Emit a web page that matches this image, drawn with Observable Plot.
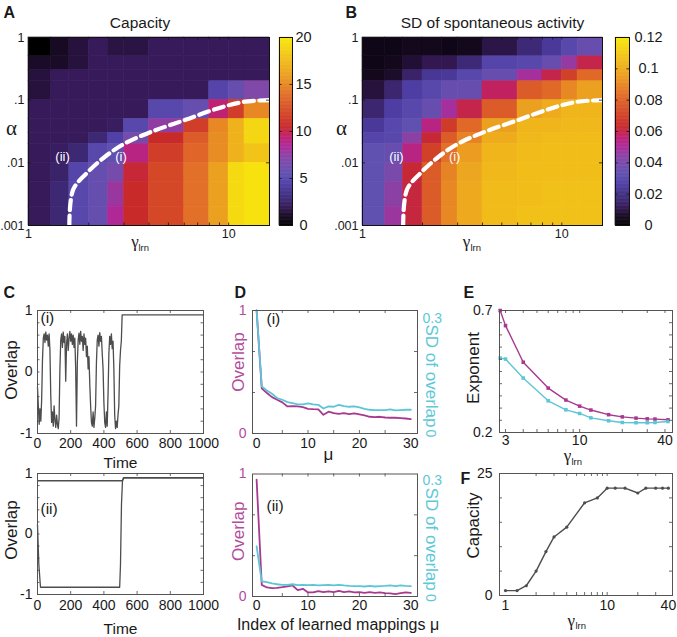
<!DOCTYPE html>
<html><head><meta charset="utf-8">
<script src="https://cdn.jsdelivr.net/npm/d3@7"></script>
<script src="https://cdn.jsdelivr.net/npm/@observablehq/plot@0.6"></script>
<style>
html,body{margin:0;padding:0;background:#fff;}
#fig{position:relative;width:677px;height:637px;overflow:hidden;background:#fff;}
</style></head><body><div id="fig"></div>
<script>
// ---------- Heatmaps (A, B) ----------
const gammaEdges = [1, 1.3, 1.6, 2, 2.5, 3, 4, 6, 8, 10, 12, 16];
const alphaEdges = [1, 0.5, 0.3, 0.2, 0.1, 0.05, 0.03, 0.02, 0.01, 0.005, 0.002, 0.001];
const capacityGrid = [
  [0, 1, 1.5, 2, 1.6, 1.6, 2, 2, 2, 2, 2],
  [1.1, 1.1, 1.5, 2, 2, 2, 2, 2, 2, 2, 2],
  [1.5, 2, 2, 2, 2, 2, 2, 2, 2, 2, 2],
  [1.5, 2, 2, 2, 2, 2, 2, 2, 4.8, 5.8, 7],
  [2, 2, 2, 2, 2, 2, 5, 5.8, 9.3, 11.5, 15],
  [2, 2, 2, 2, 2.2, 5, 7.5, 11.5, 15, 17, 19],
  [2, 2, 2, 2.8, 4.5, 6.5, 10.5, 13, 15.2, 17, 19],
  [2, 2.2, 2.8, 5, 5.5, 9, 11.5, 13.5, 15.2, 17, 18],
  [2, 2.5, 4.8, 5.8, 6.5, 10.3, 12, 14, 16, 19.2, 19.6],
  [2, 2.8, 5, 5.8, 7.8, 10.5, 12, 14, 16, 19.2, 19.6],
  [2, 2.8, 5, 5.8, 8.5, 10.5, 12, 14, 16, 19.2, 19.6]
];
const sdGrid = [
  [0.004, 0.004, 0.005, 0.005, 0.004, 0.005, 0.010, 0.017, 0.024, 0.030, 0.035],
  [0.004, 0.005, 0.008, 0.011, 0.011, 0.017, 0.029, 0.030, 0.035, 0.046, 0.060],
  [0.005, 0.007, 0.015, 0.023, 0.024, 0.030, 0.035, 0.049, 0.060, 0.070, 0.082],
  [0.009, 0.016, 0.026, 0.030, 0.035, 0.035, 0.058, 0.078, 0.082, 0.090, 0.096],
  [0.016, 0.026, 0.030, 0.035, 0.049, 0.060, 0.078, 0.096, 0.100, 0.103, 0.103],
  [0.024, 0.030, 0.033, 0.054, 0.068, 0.082, 0.096, 0.103, 0.103, 0.104, 0.104],
  [0.029, 0.030, 0.044, 0.062, 0.078, 0.089, 0.100, 0.104, 0.105, 0.105, 0.105],
  [0.033, 0.035, 0.054, 0.070, 0.084, 0.095, 0.103, 0.105, 0.106, 0.106, 0.106],
  [0.033, 0.040, 0.062, 0.078, 0.089, 0.098, 0.104, 0.106, 0.106, 0.106, 0.106],
  [0.033, 0.044, 0.061, 0.078, 0.090, 0.099, 0.105, 0.106, 0.107, 0.107, 0.107],
  [0.033, 0.047, 0.061, 0.078, 0.090, 0.099, 0.105, 0.107, 0.107, 0.107, 0.107]
];
const boundaryGamma = [1.6, 1.67, 1.95, 2.41, 3.03, 4.11, 6.02, 8.81, 11.97, 16];
const boundaryAlpha = [0.001, 0.0037, 0.0068, 0.0125, 0.0204, 0.0313, 0.048, 0.0738, 0.0943, 0.1];
const regimeLabels = ["(ii)", "(i)"];
const regimeGamma = [1.48, 2.9];
const regimeAlpha = [0.0125, 0.0125];
const gammaTickValues = [1, 10];
const alphaTickValues = [1, 0.1, 0.01, 0.001];
const alphaTickLabels = ["1", ".1", ".01", ".001"];
const heatMinorTicks = [2, 3, 4, 5, 6, 7, 8, 9, 10];
const capacityBarTicks = [0, 5, 10, 15, 20];
const capacityBarLabels = ["0", "5", "10", "15", "20"];
const sdBarTicks = [0, 0.02, 0.04, 0.06, 0.08, 0.1, 0.12];
const sdBarLabels = ["0", "0.02", "0.04", "0.06", "0.08", "0.1", "0.12"];

// ---------- C: overlap time courses ----------
const stepCi = 5;
const overlapCi = [-0.25,-0.55,-0.85,-0.6,-0.8,-0.45,
  0.2,0.55,0.62,0.48,0.65,0.52,0.6,0.42,0.62,0.35,
  -0.4,-0.82,-0.65,-0.88,-0.55,-0.78,-0.9,-0.7,-0.85,-0.92,-0.75,
  0.05,0.52,0.62,0.4,0.65,0.48,0.58,-0.15,0.45,0.62,0.35,0.55,0.66,0.5,0.62,0.45,0.6,0.4,0.55,0.05,
  -0.88,0.15,
  0.52,0.63,0.45,0.66,0.5,0.58,0.35,0.62,0.45,0.55,
  0.25,0.42,0.05,0.25,-0.2,-0.55,-0.82,
  -0.88,-0.65,-0.9,-0.75,-0.55,
  0.15,0.52,0.6,0.42,0.64,0.5,0.58,0.3,0.05,
  -0.5,-0.82,-0.9,-0.65,-0.88,-0.35,
  0.3,0.58,0.45,0.62,0.38,0.5,0.05,
  -0.7,-0.92,-0.8,-0.9,-0.7,-0.55,
  0.1,0.35,0.5];
const tailTimeCi = [510, 1000];
const tailOverlapCi = [0.93, 0.93];
const timeCiiTop = [0, 512, 518, 1000];
const overlapCiiTop = [0.88, 0.88, 0.93, 0.93];
const timeCiiBottom = [0, 8, 18, 495, 500, 506, 512, 520, 1000];
const overlapCiiBottom = [0.15, -0.5, -0.88, -0.88, -0.5, 0.5, 0.88, 0.93, 0.93];
const timeTicks = [0, 200, 400, 600, 800, 1000];
const overlapTicks = [-1, 0, 1];
const overlapMinorTicks = [-0.8, -0.6, -0.4, -0.2, 0, 0.2, 0.4, 0.6, 0.8];

// ---------- D: overlap / SD vs index mu ----------
const muIndex = [0,1,2,3,4,5,6,7,8,9,10,11,12,13,14,15,16,17,18,19,20,21,22,23,24,25,26,27,28,29,30];
const overlapDi = [1.0,0.367,0.329,0.296,0.274,0.253,0.22,0.223,0.22,0.215,0.201,0.198,0.196,0.152,0.177,0.166,0.16,0.166,0.158,0.163,0.155,0.147,0.136,0.133,0.136,0.13,0.128,0.128,0.125,0.122,0.117];
const sdDi = [0.3,0.115,0.105,0.097,0.0864,0.0823,0.0766,0.0742,0.0709,0.0709,0.0734,0.0709,0.07,0.061,0.066,0.0652,0.07,0.0668,0.0652,0.066,0.0636,0.0603,0.0579,0.057,0.057,0.057,0.0587,0.0562,0.057,0.0579,0.0579];
const overlapDii = [0.954,0.095,0.074,0.068,0.071,0.076,0.082,0.09,0.052,0.063,0.033,0.033,0.044,0.035,0.041,0.035,0.046,0.035,0.041,0.033,0.035,0.03,0.035,0.03,0.033,0.027,0.025,0.019,0.027,0.033,0.03];
const sdDii = [0.123,0.037,0.035,0.032,0.030,0.0286,0.0286,0.030,0.0278,0.0286,0.0278,0.0286,0.027,0.0278,0.0286,0.027,0.0286,0.027,0.026,0.0253,0.0253,0.0245,0.026,0.0245,0.0253,0.026,0.027,0.0253,0.027,0.026,0.0253];
const sdAxisMax = 0.3;
const muTicks = [0, 10, 20, 30];
const muMinorTicks = [5, 10, 15, 20, 25];
const sdMinorTicks = [0.1, 0.2];

// ---------- E: exponent vs gamma ----------
const gammaE = [2.75, 3, 4, 6, 8, 10, 12, 16, 20, 25, 30, 34, 42];
const exponentOverlap = [0.70, 0.638, 0.488, 0.382, 0.333, 0.308, 0.292, 0.273, 0.264, 0.259, 0.256, 0.255, 0.252];
const exponentSD = [0.505, 0.501, 0.423, 0.330, 0.293, 0.278, 0.260, 0.248, 0.241, 0.240, 0.240, 0.241, 0.245];
const gammaETicks = [3, 10, 40];
const gammaEMinor = [3, 4, 5, 6, 7, 8, 9, 10, 20, 30, 40];
const exponentTicks = [0.2, 0.7];
const exponentMinor = [0.25, 0.3, 0.35, 0.4, 0.45, 0.5, 0.55, 0.6, 0.65];

// ---------- F: capacity vs gamma ----------
const gammaF = [1, 1.3, 1.6, 2, 2.5, 3, 4, 6, 8, 10, 12, 15, 20, 24, 30, 35, 40];
const capacityF = [1, 1, 2, 5, 9, 12, 14, 19, 20, 22, 22, 22, 21, 22, 22, 22, 22];
const gammaFTicks = [1, 10, 40];
const gammaFMinor = [2, 3, 4, 5, 6, 7, 8, 9, 10, 20, 30];
const capacityTicks = [0, 25];
const capacityMinor = [5, 10, 15, 20];

// ---------- styling (not data) ----------
const cmapStops = [0, 0.05, 0.1, 0.15, 0.225, 0.275, 0.35, 0.425, 0.475, 0.525, 0.6, 0.7, 0.8, 0.9, 1];
const cmapColors = ["#000000","#170a22","#371a5a","#3e2c7a","#5040a8","#6050b0","#8048a8","#b02898","#c0206a","#c82a2a","#d44828","#e27028","#eca020","#f2c418","#f8e80c"];
const MAGENTA = "#a8398f", CYAN = "#5cc6d6", MAG_TXT = "#b24c9c", CYAN_TXT = "#5ec8d8", GRAY = "#4d4d4d";
const FONT = "Liberation Sans, Arial, Helvetica, sans-serif";
const SERIF = "Liberation Serif, DejaVu Serif, serif";
const baseStyle = {background: "transparent", overflow: "visible", fontFamily: FONT, fontSize: "14px", color: "#1a1a1a"};

const fig = document.getElementById("fig");
function place(node, left, top) {
  node.style.position = "absolute";
  node.style.left = left + "px";
  node.style.top = top + "px";
  fig.appendChild(node);
}
function colorScale(max) {
  return {type: "linear", domain: cmapStops.map(s => s * max), range: cmapColors, clamp: true};
}
function ticksX(values, innerH, len = 3, stroke = "#444") {
  return [
    Plot.tickX(values, {x: d => d, insetTop: innerH - len, stroke, strokeWidth: 0.8}),
    Plot.tickX(values, {x: d => d, insetBottom: innerH - len, stroke, strokeWidth: 0.8})
  ];
}
function ticksY(values, innerW, len = 3, stroke = "#444", yf = d => d) {
  return [
    Plot.tickY(values, {y: yf, insetRight: innerW - len, stroke, strokeWidth: 0.8}),
    Plot.tickY(values, {y: yf, insetLeft: innerW - len, stroke, strokeWidth: 0.8})
  ];
}
function label(txt, opts) { return Plot.text([txt], {text: d => d, fontFamily: FONT, ...opts}); }
function vlabel(txt, opts) { return label(txt, {textAnchor: "middle", lineAnchor: "middle", ...opts}); }
function gammaLabel(gDx, gDy, lDx, lDy) {
  return [
    label("γ", {frameAnchor: "bottom", lineAnchor: "bottom", textAnchor: "middle", dx: gDx, dy: gDy, fontSize: 17, fontFamily: SERIF}),
    label("lrn", {frameAnchor: "bottom", lineAnchor: "bottom", textAnchor: "start", dx: lDx, dy: lDy, fontSize: 9.5})
  ];
}
function letter(txt, dx, dy) {
  return label(txt, {frameAnchor: "top-left", textAnchor: "start", lineAnchor: "bottom", dx, dy, fontSize: 16, fontWeight: "bold"});
}

// ---------- heatmap panels ----------
function heatPanel({grid, max, svgLeft, W, mR, title, titleDx, letterTxt, letterDx, alphaDx, gDx, lDx}) {
  const H = 260, mL = 28, mT = 37, mB = 35;
  const innerW = W - mL - mR, innerH = H - mT - mB;
  const cells = grid.flatMap((row, i) => row.map((v, j) => ({x1: gammaEdges[j], x2: gammaEdges[j + 1], y1: alphaEdges[i + 1], y2: alphaEdges[i], v})));
  const boundary = boundaryGamma.map((g, i) => ({g, a: boundaryAlpha[i]}));
  const regimes = regimeLabels.map((t, i) => ({t, g: regimeGamma[i], a: regimeAlpha[i]}));
  const plot = Plot.plot({
    width: W, height: H, marginLeft: mL, marginRight: mR, marginTop: mT, marginBottom: mB,
    x: {type: "log", domain: [1, 16]},
    y: {type: "log", domain: [0.001, 1]},
    color: colorScale(max),
    style: baseStyle,
    marks: [
      Plot.rect(cells, {x1: "x1", x2: "x2", y1: "y1", y2: "y2", fill: "v", stroke: "v", strokeWidth: 0.6}),
      Plot.line(boundary, {x: "g", y: "a", stroke: "white", strokeWidth: 4.2, strokeDasharray: "10,5.5", curve: "catmull-rom"}),
      Plot.text(regimes, {x: "g", y: "a", text: "t", fill: "white", fontSize: 13, fontFamily: FONT}),
      Plot.frame({stroke: "#111"}),
      ...ticksX(heatMinorTicks, innerH, 2.5, "#111"),
      ...ticksY(alphaTickValues, innerW, 3, "#111"),
      Plot.axisX({ticks: gammaTickValues, tickFormat: d => String(d), tickSize: 0, tickPadding: 4, label: null, fontSize: 12.5}),
      Plot.axisY({ticks: alphaTickValues, tickFormat: d => alphaTickLabels[alphaTickValues.indexOf(d)], tickSize: 0, tickPadding: 4, label: null, fontSize: 12.5}),
      label(title, {frameAnchor: "top", lineAnchor: "bottom", textAnchor: "middle", dx: titleDx, dy: -10, fontSize: 15.5}),
      vlabel("α", {frameAnchor: "left", dx: alphaDx, dy: -3, fontSize: 21, fontFamily: SERIF}),
      ...gammaLabel(gDx, 21, lDx, 25),
      letter(letterTxt, letterDx, -20)
    ]
  });
  place(plot, svgLeft, 0);
}
function colorbarPanel({max, ticks, labels, svgLeft, W, mL, mR, labelDx}) {
  const H = 260, mT = 37, mB = 35;
  const innerW = W - mL - mR;
  const n = 240;
  const bands = d3.range(n).map(i => ({y1: max * i / n, y2: max * (i + 1) / n}));
  const plot = Plot.plot({
    width: W, height: H, marginLeft: mL, marginRight: mR, marginTop: mT, marginBottom: mB,
    x: {domain: [0, 1], axis: null},
    y: {domain: [0, max], axis: null},
    color: colorScale(max),
    style: baseStyle,
    marks: [
      Plot.rect(bands, {x1: d => 0, x2: d => 1, y1: "y1", y2: "y2", fill: d => (d.y1 + d.y2) / 2, stroke: d => (d.y1 + d.y2) / 2, strokeWidth: 0.5}),
      Plot.frame({stroke: "#111"}),
      ...ticksY(ticks.slice(1, -1), innerW, 2.5, "#111"),
      Plot.text(ticks, {y: d => d, text: d => labels[ticks.indexOf(d)], frameAnchor: "right", dx: labelDx, textAnchor: "middle", lineAnchor: "middle", fontSize: 14.5, fontFamily: FONT})
    ]
  });
  place(plot, svgLeft, 0);
}
heatPanel({grid: capacityGrid, max: 20, svgLeft: 0, W: 275, mR: 6, title: "Capacity", titleDx: -9, letterTxt: "A", letterDx: -25, alphaDx: -17, gDx: -14, lDx: -10.5});
colorbarPanel({max: 20, ticks: capacityBarTicks, labels: capacityBarLabels, svgLeft: 270, W: 45, mL: 9, mR: 23, labelDx: 11});
heatPanel({grid: sdGrid, max: 0.12, svgLeft: 334, W: 275, mR: 7, title: "SD of spontaneous activity", titleDx: 10, letterTxt: "B", letterDx: -17, alphaDx: -21, gDx: -16, lDx: -12});
colorbarPanel({max: 0.12, ticks: sdBarTicks, labels: sdBarLabels, svgLeft: 606, W: 71, mL: 9, mR: 48, labelDx: 19});

// ---------- C panels ----------
function cPanel({top, H, mT, mB, lines, tag, tagDy, tickPad, timeDy, overlapDy, letterTxt}) {
  const W = 215, mL = 37, mR = 12;
  const innerW = W - mL - mR, innerH = H - mT - mB;
  const marks = [];
  for (const s of lines) marks.push(Plot.line(s, {x: "t", y: "v", stroke: GRAY, strokeWidth: 1.3}));
  marks.push(
    Plot.frame({stroke: "#555"}),
    ...ticksX(timeTicks.slice(1, -1), innerH, 3),
    ...ticksY(overlapMinorTicks, innerW, 2.5),
    Plot.axisX({ticks: timeTicks, tickFormat: d => String(d), tickSize: 0, tickPadding: tickPad, label: null, fontSize: 14}),
    Plot.axisY({ticks: overlapTicks, tickFormat: d => String(d), tickSize: 0, tickPadding: 5, label: null, fontSize: 14}),
    label("Time", {frameAnchor: "bottom", lineAnchor: "bottom", textAnchor: "middle", dy: timeDy, fontSize: 15.5}),
    vlabel("Overlap", {frameAnchor: "left", rotate: -90, dx: -25.5, dy: overlapDy, fontSize: 17}),
    label(tag, {frameAnchor: "top-left", textAnchor: "start", lineAnchor: "bottom", dx: 3, dy: tagDy, fontSize: 15.5})
  );
  if (letterTxt) marks.push(letter(letterTxt, -34, -13));
  const plot = Plot.plot({
    width: W, height: H, marginLeft: mL, marginRight: mR, marginTop: mT, marginBottom: mB,
    x: {domain: [0, 1000]}, y: {domain: [-1, 1]},
    style: baseStyle, marks
  });
  place(plot, 0, top);
}
const seriesCi = [
  ...overlapCi.map((v, i) => ({t: i * stepCi, v})),
  ...tailTimeCi.map((t, i) => ({t, v: tailOverlapCi[i]}))
];
const seriesCiiTop = timeCiiTop.map((t, i) => ({t, v: overlapCiiTop[i]}));
const seriesCiiBottom = timeCiiBottom.map((t, i) => ({t, v: overlapCiiBottom[i]}));
cPanel({top: 290, H: 175, mT: 20, mB: 32, lines: [seriesCi], tag: "(i)", tagDy: 12, tickPad: 5, timeDy: 34, overlapDy: -2, letterTxt: "C"});
cPanel({top: 455, H: 182, mT: 18, mB: 43, lines: [seriesCiiTop, seriesCiiBottom], tag: "(ii)", tagDy: 40, tickPad: 6, timeDy: 39, overlapDy: -4});

// ---------- D panels ----------
function dPanel({top, H, mT, mB, overlap, sd, tag, tagDy, tickPad, overlapDy, sdDy, zeroDy, topDy, letterTxt, xLabel, xLabelDx, xLabelDy, xLabelSize}) {
  const W = 235, mL = 37, mR = 33;
  const innerW = W - mL - mR, innerH = H - mT - mB;
  const rows = muIndex.map((mu, i) => ({mu, overlap: overlap[i], sd: sd[i]}));
  const marks = [
    Plot.line(rows, {x: "mu", y: "overlap", stroke: MAGENTA, strokeWidth: 1.8}),
    Plot.line(rows, {x: "mu", y: d => d.sd / sdAxisMax, stroke: CYAN, strokeWidth: 1.8}),
    Plot.frame({stroke: "#555"}),
    ...ticksX(muMinorTicks, innerH, 3),
    ...ticksY(sdMinorTicks, innerW, 3, "#444", d => d / sdAxisMax),
    Plot.axisX({ticks: muTicks, tickFormat: d => String(d), tickSize: 0, tickPadding: tickPad, label: null, fontSize: 14}),
    Plot.axisY({ticks: [0, 1], tickFormat: d => String(d), tickSize: 0, tickPadding: 6, label: null, fontSize: 14, color: MAG_TXT, fill: MAG_TXT}),
    label("0.3", {frameAnchor: "top-right", textAnchor: "start", lineAnchor: "top", dx: 5, dy: topDy, fontSize: 14, fill: CYAN_TXT}),
    vlabel("SD of overlap", {frameAnchor: "right", rotate: 90, dx: 14, dy: sdDy, fontSize: 17, fill: CYAN_TXT}),
    vlabel("0", {frameAnchor: "bottom-right", rotate: 90, dx: 13, dy: zeroDy, fontSize: 14, fill: CYAN_TXT}),
    vlabel("Overlap", {frameAnchor: "left", rotate: -90, dx: -14, dy: overlapDy, fontSize: 17, fill: MAG_TXT}),
    label(tag, {frameAnchor: "top-left", textAnchor: "start", lineAnchor: "bottom", dx: 14, dy: tagDy, fontSize: 15.5}),
    label(xLabel, {frameAnchor: "bottom", lineAnchor: "bottom", textAnchor: "middle", dx: xLabelDx, dy: xLabelDy, fontSize: xLabelSize})
  ];
  if (letterTxt) marks.push(letter(letterTxt, -18, -13));
  const plot = Plot.plot({
    width: W, height: H, marginLeft: mL, marginRight: mR, marginTop: mT, marginBottom: mB,
    x: {domain: [-0.8, 31.3]}, y: {domain: [0, 1]},
    style: baseStyle, marks
  });
  place(plot, 215, top);
}
dPanel({top: 290, H: 175, mT: 20, mB: 32, overlap: overlapDi, sd: sdDi, tag: "(i)", tagDy: 13, tickPad: 5, overlapDy: -10, sdDy: 4, zeroDy: 0, topDy: 3, letterTxt: "D", xLabel: "μ", xLabelDx: -6.5, xLabelDy: 26, xLabelSize: 17});
dPanel({top: 455, H: 182, mT: 18.5, mB: 41, overlap: overlapDii, sd: sdDii, tag: "(ii)", tagDy: 37, tickPad: 4, overlapDy: -4, sdDy: 4, zeroDy: 1.5, topDy: 1.5, xLabel: "Index of learned mappings μ", xLabelDx: 3, xLabelDy: 33, xLabelSize: 16});

// ---------- E panel ----------
{
  const W = 222, H = 175, mL = 44, mR = 5, mT = 20, mB = 33;
  const innerW = W - mL - mR, innerH = H - mT - mB;
  const rows = gammaE.map((g, i) => ({g, a: exponentOverlap[i], b: exponentSD[i]}));
  const plot = Plot.plot({
    width: W, height: H, marginLeft: mL, marginRight: mR, marginTop: mT, marginBottom: mB,
    x: {type: "log", domain: [2.72, 45.2]}, y: {domain: [0.2, 0.7]},
    style: baseStyle,
    marks: [
      Plot.line(rows, {x: "g", y: "a", stroke: MAGENTA, strokeWidth: 1.4}),
      Plot.dot(rows, {x: "g", y: "a", fill: MAGENTA, symbol: "square", r: 2}),
      Plot.line(rows, {x: "g", y: "b", stroke: CYAN, strokeWidth: 1.4}),
      Plot.dot(rows, {x: "g", y: "b", fill: CYAN, symbol: "square", r: 2}),
      Plot.frame({stroke: "#555"}),
      ...ticksX(gammaEMinor, innerH, 3),
      ...ticksY(exponentMinor, innerW, 3),
      Plot.axisX({ticks: gammaETicks, tickFormat: d => String(d), tickSize: 0, tickPadding: 3, label: null, fontSize: 14}),
      Plot.axisY({ticks: exponentTicks, tickFormat: d => d.toFixed(1), tickSize: 0, tickPadding: 7, label: null, fontSize: 14}),
      vlabel("Exponent", {frameAnchor: "left", rotate: -90, dx: -26, dy: -3.5, fontSize: 17}),
      ...gammaLabel(-18.5, 28, -14.5, 32),
      letter("E", -36, -13)
    ]
  });
  place(plot, 455, 290);
}

// ---------- F panel ----------
{
  const W = 222, H = 182, mL = 44, mR = 5, mT = 18, mB = 42;
  const innerW = W - mL - mR, innerH = H - mT - mB;
  const rows = gammaF.map((g, i) => ({g, c: capacityF[i]}));
  const plot = Plot.plot({
    width: W, height: H, marginLeft: mL, marginRight: mR, marginTop: mT, marginBottom: mB,
    x: {type: "log", domain: [0.873, 43.9]}, y: {domain: [0, 25]},
    style: baseStyle,
    marks: [
      Plot.line(rows, {x: "g", y: "c", stroke: GRAY, strokeWidth: 1.4}),
      Plot.dot(rows, {x: "g", y: "c", fill: GRAY, r: 1.6}),
      Plot.frame({stroke: "#555"}),
      ...ticksX(gammaFMinor, innerH, 3),
      ...ticksY(capacityMinor, innerW, 3),
      Plot.axisX({ticks: gammaFTicks, tickFormat: d => String(d), tickSize: 0, tickPadding: 5, label: null, fontSize: 14}),
      Plot.axisY({ticks: capacityTicks, tickFormat: d => String(d), tickSize: 0, tickPadding: 7, label: null, fontSize: 14}),
      vlabel("Capacity", {frameAnchor: "left", rotate: -90, dx: -26, dy: -9, fontSize: 17}),
      ...gammaLabel(-14.7, 30, -10.5, 33),
      letter("F", -39, 10)
    ]
  });
  place(plot, 455, 455);
}
</script></body></html>
